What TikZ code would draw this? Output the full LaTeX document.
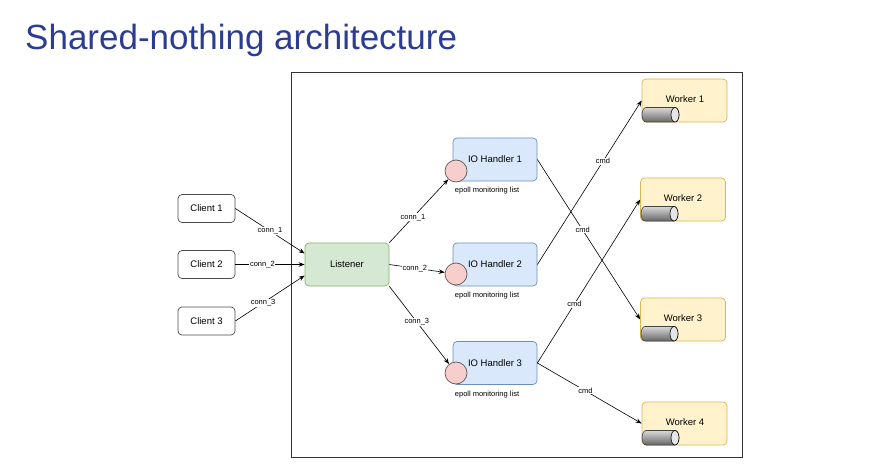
\documentclass[tikz,border=0pt]{standalone}
\usepackage{fontspec}
\setmainfont{Liberation Sans}
\usetikzlibrary{arrows.meta}
\definecolor{titleblue}{RGB}{44,60,145}
\definecolor{greenfill}{RGB}{213,232,212}
\definecolor{greenline}{RGB}{130,179,102}
\definecolor{bluefill}{RGB}{218,232,252}
\definecolor{blueline}{RGB}{108,142,191}
\definecolor{yellowfill}{RGB}{255,242,204}
\definecolor{yellowline}{RGB}{214,182,86}
\definecolor{redfill}{RGB}{248,206,204}
\tikzset{
  box/.style={draw=black!70, fill=white, rounded corners=4pt, line width=0.7pt, minimum width=57pt, minimum height=28pt, font=\fontsize{9.5}{11}\selectfont, inner sep=0pt},
  listener/.style={box, draw=greenline, fill=greenfill, minimum width=84pt, minimum height=43pt},
  handler/.style={box, draw=blueline, fill=bluefill, minimum width=84pt, minimum height=43pt},
  worker/.style={box, draw=yellowline, fill=yellowfill, minimum width=85pt, minimum height=43pt},
  port/.style={circle, draw=black!65, fill=redfill, minimum size=22pt, inner sep=0pt, line width=0.7pt},
  small/.style={font=\fontsize{7.5}{9}\selectfont, inner sep=0.8pt},
  lbl/.style={small, fill=white},
  wlabel/.style={font=\fontsize{9.5}{11}\selectfont, inner sep=0pt},
  conn/.style={-{Stealth[length=6pt,width=4.5pt]}, line width=0.6pt, black},
}
\newcommand{\drumat}[2]{%
  \shade[top color=black!15, bottom color=black!60, draw=black!75, line width=0.6pt]
    (#1+4,#2) -- (#1+33,#2) arc[start angle=90, end angle=-90, x radius=4pt, y radius=7.25pt]
    -- (#1+4,#2+14.5) arc[start angle=-90, end angle=-270, x radius=4pt, y radius=7.25pt] -- cycle;
  \draw[fill=black!10, line width=0.6pt] (#1+33,#2+7.25) ellipse[x radius=4pt, y radius=7.25pt];
}
\begin{document}
\begin{tikzpicture}[x=1pt, y=-1pt]
\useasboundingbox (0,0) rectangle (882,470);
\node[anchor=base west, inner sep=0pt, text=titleblue, font=\fontsize{35}{40}\selectfont] (title) at (25,50) {Shared-nothing architecture};
\draw[black!80, line width=0.9pt] (291,72) rectangle (742,457);

\node[box] (c1) at (206.5,208.5) {Client 1};
\node[box] (c2) at (206.5,264.5) {Client 2};
\node[box] (c3) at (206.5,321) {Client 3};
\node[listener] (L) at (347,264.5) {Listener};

\node[handler] (h1) at (495,159.5) {IO Handler 1};
\node[handler] (h2) at (495,264.5) {IO Handler 2};
\node[handler] (h3) at (495,363) {IO Handler 3};
\node[port] (r1) at (456,171) {};
\node[port] (r2) at (456,274) {};
\node[port] (r3) at (456,373) {};
\node[small] (e1) at (487,191) {epoll monitoring list};
\node[small] (e2) at (487,296) {epoll monitoring list};
\node[small] (e3) at (487,395) {epoll monitoring list};

\node[worker] (w1) at (684.5,100.5) {};
\node[worker] (w2) at (683,199.5) {};
\node[worker] (w3) at (683,319.5) {};
\node[worker] (w4) at (684.5,423.5) {};
\node[wlabel] (t1) at (685,99) {Worker 1};
\node[wlabel] (t2) at (683,198) {Worker 2};
\node[wlabel] (t3) at (683,318) {Worker 3};
\node[wlabel] (t4) at (685,422) {Worker 4};
\drumat{642}{107.5}
\drumat{641}{206.5}
\drumat{641}{326.5}
\drumat{642}{430.5}

\draw[conn] (c1.east) -- node[lbl, pos=0.5] {conn\_1} ([yshift=11pt]L.west);
\draw[conn] (c2.east) -- node[lbl, pos=0.39] {conn\_2} (L.west);
\draw[conn] (c3.east) -- node[lbl, pos=0.4] {conn\_3} ([yshift=-11pt]L.west);

\draw[conn] (L.north east) -- node[lbl, pos=0.4] {conn\_1} (r1);
\draw[conn] (L.east) -- node[lbl, pos=0.46] {conn\_2} (r2);
\draw[conn] (L.south east) -- node[lbl, pos=0.46] {conn\_3} (r3);

\draw[conn] (h1.east) -- node[lbl, pos=0.44] {cmd} (w3.west);
\draw[conn] (h2.east) -- node[lbl, pos=0.63] {cmd} (w1.west);
\draw[conn] (h3.east) -- node[lbl, pos=0.36] {cmd} (w2.west);
\draw[conn] (h3.east) -- node[lbl, pos=0.46] {cmd} (w4.west);
\end{tikzpicture}
\end{document}
